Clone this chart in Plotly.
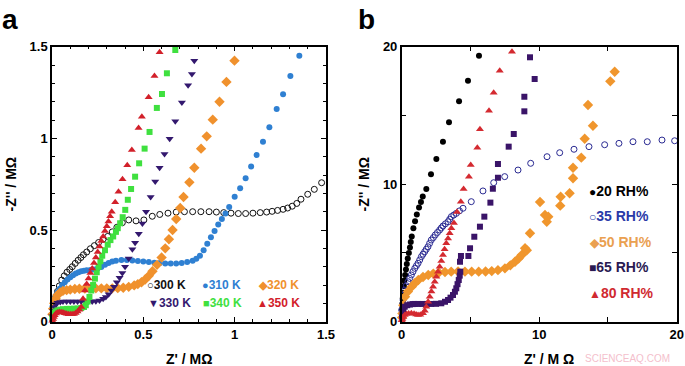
import plotly.graph_objects as go

FONT = "Arial, Liberation Sans, sans-serif"

# ---------------- Panel a : temperature series (Z' , -Z'' in MOhm) ----------------
x300 = [0.003,0.008,0.014,0.021,0.03,0.04,0.053,0.067,0.082,0.097,0.111,0.127,0.143,0.158,0.172,0.19,0.21,0.232,0.255,0.28,0.305,0.33,0.355,0.385,0.42,0.46,0.503,0.549,0.59,0.635,0.68,0.725,0.77,0.815,0.86,0.9,0.94,0.98,1.02,1.06,1.1,1.14,1.175,1.205,1.235,1.265,1.29,1.315,1.34,1.363,1.40,1.436,1.476]
y300 = [0.04,0.075,0.105,0.135,0.165,0.195,0.227,0.25,0.27,0.285,0.3,0.318,0.335,0.35,0.365,0.38,0.398,0.415,0.432,0.45,0.465,0.49,0.515,0.54,0.555,0.55,0.555,0.575,0.585,0.592,0.598,0.6,0.6,0.6,0.6,0.598,0.595,0.592,0.59,0.59,0.592,0.595,0.598,0.602,0.607,0.613,0.62,0.63,0.645,0.668,0.695,0.722,0.758]

x310 = [0.002,0.006,0.012,0.02,0.03,0.042,0.055,0.07,0.085,0.1,0.115,0.13,0.145,0.16,0.175,0.19,0.21,0.23,0.25,0.27,0.29,0.31,0.33,0.35,0.38,0.41,0.44,0.47,0.5,0.53,0.56,0.59,0.62,0.65,0.68,0.71,0.74,0.77,0.79,0.81,0.83,0.85,0.87,0.89,0.91,0.93,0.95,0.97,1.0,1.03,1.06,1.09,1.12,1.155,1.19,1.23,1.265,1.305,1.354]
y310 = [0.08,0.1,0.12,0.14,0.16,0.18,0.2,0.215,0.23,0.243,0.254,0.263,0.27,0.275,0.278,0.28,0.282,0.285,0.29,0.298,0.31,0.32,0.328,0.333,0.336,0.336,0.334,0.331,0.328,0.325,0.322,0.32,0.318,0.317,0.318,0.32,0.325,0.333,0.343,0.36,0.39,0.425,0.46,0.495,0.53,0.56,0.59,0.625,0.682,0.728,0.782,0.846,0.909,0.982,1.06,1.16,1.24,1.34,1.451]

x320 = [0.002,0.006,0.012,0.02,0.03,0.045,0.06,0.08,0.1,0.125,0.15,0.18,0.21,0.24,0.27,0.3,0.33,0.36,0.39,0.42,0.45,0.47,0.49,0.51,0.53,0.55,0.575,0.6,0.62,0.64,0.66,0.68,0.702,0.72,0.752,0.779,0.816,0.847,0.88,0.917,0.955,0.999]
y320 = [0.04,0.07,0.1,0.125,0.145,0.16,0.168,0.172,0.175,0.178,0.18,0.181,0.182,0.182,0.182,0.182,0.182,0.183,0.185,0.19,0.198,0.205,0.215,0.23,0.25,0.275,0.31,0.35,0.4,0.45,0.5,0.56,0.62,0.68,0.76,0.84,0.944,1.011,1.102,1.2,1.308,1.424]

x330 = [0.002,0.006,0.012,0.02,0.03,0.045,0.06,0.08,0.1,0.12,0.14,0.16,0.18,0.2,0.22,0.24,0.26,0.28,0.295,0.31,0.325,0.34,0.355,0.37,0.385,0.4,0.42,0.44,0.455,0.475,0.495,0.515,0.54,0.565,0.589,0.616,0.644,0.675,0.711,0.745,0.766,0.779]
y330 = [0.03,0.06,0.08,0.095,0.103,0.108,0.11,0.11,0.11,0.11,0.11,0.11,0.11,0.11,0.11,0.112,0.116,0.125,0.135,0.15,0.17,0.19,0.215,0.24,0.265,0.3,0.345,0.395,0.43,0.48,0.535,0.6,0.68,0.765,0.84,0.915,0.998,1.093,1.195,1.29,1.351,1.424]

x340 = [0.002,0.006,0.012,0.02,0.03,0.045,0.06,0.08,0.1,0.12,0.14,0.16,0.175,0.185,0.195,0.205,0.215,0.225,0.235,0.245,0.255,0.265,0.275,0.29,0.305,0.32,0.335,0.35,0.36,0.373,0.387,0.401,0.415,0.433,0.455,0.477,0.507,0.534,0.574,0.602,0.629,0.675]
y340 = [0.02,0.035,0.048,0.056,0.062,0.066,0.068,0.07,0.07,0.071,0.072,0.075,0.08,0.09,0.11,0.135,0.17,0.2,0.235,0.27,0.3,0.33,0.36,0.39,0.42,0.445,0.465,0.49,0.51,0.537,0.57,0.61,0.665,0.724,0.791,0.864,0.944,1.035,1.166,1.242,1.355,1.482]

x350 = [0.002,0.006,0.01,0.015,0.022,0.03,0.04,0.05,0.06,0.07,0.08,0.09,0.1,0.11,0.12,0.13,0.14,0.15,0.16,0.17,0.18,0.19,0.2,0.21,0.22,0.23,0.24,0.25,0.26,0.27,0.28,0.29,0.3,0.309,0.318,0.327,0.346,0.364,0.386,0.412,0.437,0.474,0.492,0.529,0.561,0.589]
y350 = [0.005,0.015,0.025,0.035,0.045,0.05,0.053,0.052,0.05,0.046,0.043,0.04,0.04,0.04,0.042,0.047,0.055,0.065,0.08,0.125,0.17,0.205,0.235,0.265,0.29,0.32,0.35,0.38,0.41,0.44,0.465,0.495,0.52,0.546,0.575,0.6,0.651,0.709,0.777,0.853,0.937,1.057,1.118,1.224,1.34,1.47]

# ---------------- Panel b : humidity series (Z' , -Z'' in MOhm) ----------------
x20 = [0.01,0.02,0.03,0.05,0.08,0.12,0.16,0.19,0.25,0.31,0.37,0.44,0.52,0.6,0.66,0.73,0.85,0.97,1.1,1.26,1.4,1.53,1.79,2.13,2.52,3.0,3.44,4.17,4.82,5.62]
y20 = [0.3,0.6,0.9,1.3,1.7,2.1,2.6,3.0,3.4,3.8,4.2,4.6,5.0,5.4,5.8,6.2,6.8,7.3,7.8,8.3,8.7,9.1,9.65,10.72,11.83,13.09,14.5,16.03,17.53,19.35]

x35 = [0.0,0.05,0.1,0.16,0.22,0.34,0.46,0.58,0.7,0.82,0.95,1.07,1.19,1.31,1.43,1.55,1.67,1.79,1.91,2.03,2.15,2.3,2.44,2.6,2.76,2.88,3.0,3.18,3.37,3.49,3.61,3.79,3.97,4.2,4.46,5.06,5.91,6.69,7.49,8.46,9.38,10.57,11.49,12.53,13.62,14.76,15.8,16.82,17.86,18.93,19.85]
y35 = [0.85,1.2,1.58,1.95,2.3,2.62,2.91,3.15,3.4,3.64,3.88,4.07,4.25,4.49,4.73,4.91,5.09,5.27,5.45,5.7,5.94,6.12,6.31,6.49,6.67,6.82,6.96,7.12,7.27,7.45,7.64,7.76,7.88,8.06,8.25,8.73,9.51,10.11,10.55,11.03,11.52,12.0,12.29,12.54,12.73,12.87,12.97,13.09,13.09,13.21,13.16]

x50 = [0.02,0.05,0.12,0.24,0.45,0.73,0.95,1.21,1.55,1.93,2.3,2.7,3.15,3.6,4.1,4.6,5.09,5.6,6.1,6.55,7.0,7.51,7.9,8.24,8.5,8.73,8.97,9.1,9.33,10.06,10.42,10.55,10.66,11.53,11.56,12.21,12.46,12.46,13.06,13.31,13.91,13.55,15.17,15.49]
y50 = [0.3,0.6,1.2,1.82,2.2,2.55,2.8,3.03,3.25,3.4,3.5,3.57,3.62,3.64,3.65,3.64,3.64,3.64,3.65,3.68,3.75,3.88,4.1,4.36,4.6,4.85,5.34,5.2,6.43,8.71,7.76,7.27,7.64,8.44,9.09,9.34,10.43,11.2,11.93,13.31,14.25,15.76,17.48,18.18]

x65 = [0.02,0.06,0.12,0.22,0.4,0.6,0.8,0.95,1.2,1.5,1.8,2.15,2.5,2.88,3.15,3.37,3.55,3.73,3.87,3.97,4.06,4.15,4.22,4.26,4.24,4.31,4.85,4.97,5.28,5.69,6.01,6.45,6.63,7.0,7.0,7.78,8.15,8.92,8.92,9.67,9.33]
y65 = [0.3,0.6,0.85,1.09,1.2,1.25,1.28,1.29,1.29,1.29,1.29,1.29,1.3,1.34,1.45,1.58,1.75,1.94,2.18,2.43,2.73,3.03,3.35,3.64,4.36,4.78,4.78,5.34,6.18,6.91,7.64,8.66,9.67,10.47,11.47,12.73,13.65,15.3,16.36,17.65,19.23]

x80 = [0.0,0.05,0.12,0.22,0.35,0.5,0.7,0.9,1.05,1.19,1.35,1.55,1.68,1.79,1.92,2.04,2.16,2.28,2.4,2.52,2.64,2.76,2.88,3.0,3.12,3.24,3.37,3.49,3.61,3.8,4.02,4.3,4.5,4.89,5.02,5.5,5.69,6.35,6.69,7.13,8.02]
y80 = [0.1,0.2,0.35,0.49,0.56,0.6,0.61,0.57,0.52,0.49,0.5,0.61,0.8,1.09,1.45,1.82,2.2,2.55,2.9,3.27,3.63,4.0,4.42,4.85,5.27,5.7,6.06,6.43,6.8,7.18,7.98,8.73,9.65,10.55,11.4,12.65,13.99,15.35,16.65,18.25,19.64]

# legend labels
labels_a = ["300 K", "310 K", "320 K", "330 K", "340 K", "350 K"]
labels_b = ["20 RH%", "35 RH%", "50 RH%", "65 RH%", "80 RH%"]

C300, C310, C320, C330, C340, C350 = "#111111", "#2f80d2", "#f0912d", "#33186e", "#3fe03f", "#d2202a"
C20, C35, C50, C65, C80 = "#000000", "#2a2a92", "#f0962d", "#3a1468", "#d42a30"

W, H = 685, 366
fig = go.Figure()

def add(x, y, color, symbol, size, xa, ya, name, open_=False):
    if open_:
        marker = dict(symbol=symbol, size=size, color=color, line=dict(color=color, width=1))
    else:
        marker = dict(symbol=symbol, size=size, color=color, line=dict(width=0))
    fig.add_trace(go.Scatter(x=x, y=y, mode="markers", marker=marker, name=name,
                             xaxis=xa, yaxis=ya, cliponaxis=False, showlegend=False))

add(x300, y300, C300, "circle-open", 6, "x", "y", labels_a[0], open_=True)
add(x310, y310, C310, "circle", 6, "x", "y", labels_a[1])
add(x320, y320, C320, "diamond", 8, "x", "y", labels_a[2])
add(x330, y330, C330, "triangle-down", 7, "x", "y", labels_a[3])
add(x340, y340, C340, "square", 6, "x", "y", labels_a[4])
add(x350, y350, C350, "triangle-up", 7, "x", "y", labels_a[5])

add(x20, y20, C20, "circle", 6, "x2", "y2", labels_b[0])
add(x35, y35, C35, "circle-open", 6, "x2", "y2", labels_b[1], open_=True)
add(x50, y50, C50, "diamond", 8, "x2", "y2", labels_b[2])
add(x65, y65, C65, "square", 6, "x2", "y2", labels_b[3])
add(x80, y80, C80, "triangle-up", 7, "x2", "y2", labels_b[4])

tickfont = dict(family=FONT, size=13, color="black", weight="bold")
titlefont = dict(family=FONT, size=14, color="black", weight="bold")

def axis(rng, dtick, mdtick, mlen, domain, anchor, title, standoff):
    return dict(range=rng, domain=domain, anchor=anchor, autorange=False, automargin=False,
                showline=True, linecolor="black", linewidth=1.5, mirror="ticks",
                ticks="inside", ticklen=5, tickwidth=1.2, tickcolor="black",
                tick0=0, dtick=dtick, showgrid=False, zeroline=False,
                tickfont=tickfont,
                minor=dict(dtick=mdtick, ticks="inside", ticklen=mlen, tickwidth=1,
                           tickcolor="black", showgrid=False),
                title=dict(text=title, font=titlefont, standoff=standoff))

YD = [1 - 321.7 / H, 1 - 46.7 / H]
fig.update_layout(
    width=W, height=H, margin=dict(l=0, r=0, t=0, b=0, autoexpand=False),
    paper_bgcolor="white", plot_bgcolor="white", showlegend=False,
    font=dict(family=FONT),
    xaxis=axis([0, 1.5], 0.5, 0.1, 3, [52 / W, 326 / W], "y", "", 0),
    yaxis=axis([0, 1.5], 0.5, 0.1, 3, YD, "x", "-Z'' / MΩ", 10),
    xaxis2=axis([0, 20], 10, 5, 5, [401.7 / W, 676.7 / W], "y2", "", 0),
    yaxis2=axis([0, 20], 10, 5, 5, YD, "x2", "-Z'' / MΩ", 10),
)

ann = []
# panel letters
for txt, px in (("<b>a</b>", 0), ("<b>b</b>", 356)):
    ann.append(dict(text=txt, x=px / W, y=1 - 2 / H, xref="paper", yref="paper",
                    xanchor="left", yanchor="top", showarrow=False,
                    font=dict(family=FONT, size=28, color="black")))

# x axis titles
for txt, px in (("Z' / MΩ", 189), ("Z' / M Ω", 549)):
    ann.append(dict(text=txt, x=px / W, y=1 - 359 / H, xref="paper", yref="paper",
                    xanchor="center", yanchor="middle", showarrow=False, font=titlefont))

# legend a (two rows x three columns)
leg_a = [
    (labels_a[0], "○", C300, 145, 285), (labels_a[1], "●", C310, 200, 285), (labels_a[2], "◆", C320, 256, 285),
    (labels_a[3], "▼", C330, 146, 303), (labels_a[4], "■", C340, 201, 303), (labels_a[5], "▲", C350, 255, 303),
]
for lab, sym, col, px, py in leg_a:
    ann.append(dict(text=f'<span style="font-size:11px">{sym}</span>{lab}', x=px / W, y=1 - py / H,
                    xref="paper", yref="paper", xanchor="left", yanchor="middle", showarrow=False,
                    font=dict(family=FONT, size=12, color=col, weight="bold")))

leg_b = [
    (labels_b[0], "●", C20, 190.7), (labels_b[1], "○", "#2a3aa8", 215.7), (labels_b[2], "◆", "#eaa050", 241.7),
    (labels_b[3], "■", "#2a1a52", 267.3), (labels_b[4], "▲", "#d02a30", 292.7),
]
for lab, sym, col, py in leg_b:
    ann.append(dict(text=f'<span style="font-size:12px">{sym}</span>{lab}', x=587 / W, y=1 - py / H,
                    xref="paper", yref="paper", xanchor="left", yanchor="middle", showarrow=False,
                    font=dict(family=FONT, size=14, color=col, weight="bold")))

# watermark
ann.append(dict(text="SCIENCEAQ.COM", x=627 / W, y=1 - 358 / H, xref="paper", yref="paper",
                xanchor="center", yanchor="middle", showarrow=False,
                font=dict(family=FONT, size=10, color="#f4c0cc")))

fig.update_layout(annotations=ann)
fig.write_html("out.html", config={"displayModeBar": False},
               post_script="document.body.style.margin='0';")
